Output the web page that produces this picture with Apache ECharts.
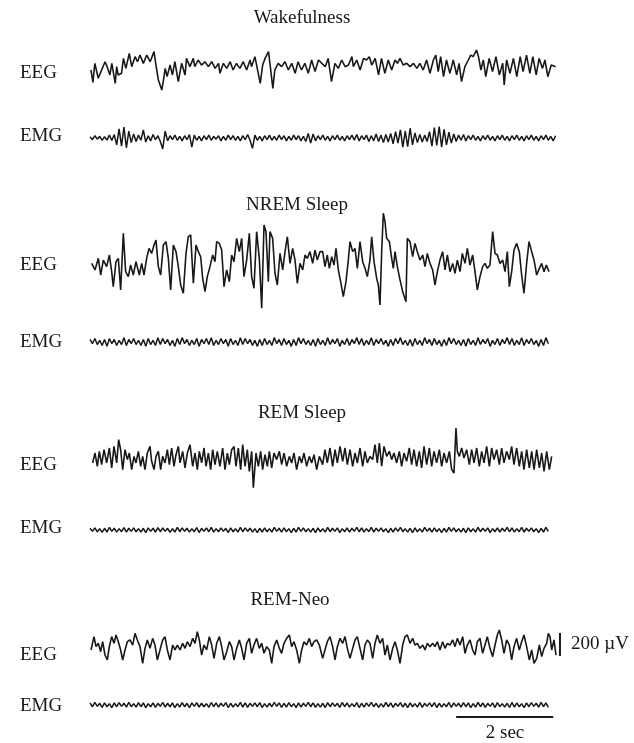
<!DOCTYPE html>
<html>
<head>
<meta charset="utf-8">
<script src="https://cdn.jsdelivr.net/npm/echarts@6/dist/echarts.min.js"></script>
<style>
html,body{margin:0;padding:0;background:#fff;}
#main{width:634px;height:743px;}
</style>
</head>
<body>
<div id="main"></div>
<script>
var wakeEeg = [[0.02,0],[0.06,-107],[0.10,58],[0.17,-72],[0.31,72],[0.34,43],[0.41,-43],[0.45,58],[0.52,-116],[0.55,29],[0.58,-43],[0.65,-29],[0.69,101],[0.74,14],[0.81,145],[0.86,29],[0.93,116],[0.98,72],[1.03,130],[1.10,58],[1.17,130],[1.24,72],[1.32,160],[1.36,43],[1.41,-87],[1.48,-174],[1.51,-101],[1.55,14],[1.59,-58],[1.65,43],[1.70,-43],[1.75,72],[1.82,-101],[1.89,58],[1.96,-43],[1.99,101],[2.06,29],[2.13,101],[2.16,29],[2.23,87],[2.30,43],[2.37,72],[2.44,29],[2.51,72],[2.58,14],[2.65,58],[2.68,-29],[2.75,58],[2.82,14],[2.89,72],[2.95,0],[3.02,58],[3.09,14],[3.16,72],[3.23,0],[3.30,87],[3.33,29],[3.40,116],[3.47,-29],[3.51,-116],[3.56,43],[3.61,101],[3.68,160],[3.71,58],[3.77,-160],[3.81,0],[3.88,58],[3.95,29],[4.02,72],[4.09,0],[4.16,58],[4.23,-29],[4.29,72],[4.36,0],[4.43,58],[4.50,-29],[4.57,87],[4.64,-14],[4.71,87],[4.85,29],[4.91,101],[4.98,-101],[5.05,58],[5.12,14],[5.19,87],[5.26,29],[5.33,43],[5.40,116],[5.43,29],[5.50,87],[5.57,0],[5.64,101],[5.70,87],[5.76,116],[5.81,43],[5.88,101],[5.95,-43],[6.01,101],[6.08,-29],[6.15,87],[6.22,0],[6.29,87],[6.34,58],[6.39,101],[6.46,43],[6.53,58],[6.60,29],[6.67,58],[6.74,14],[6.80,58],[6.87,0],[6.94,87],[7.01,-29],[7.08,87],[7.13,130],[7.18,-14],[7.23,116],[7.29,-58],[7.35,87],[7.42,-29],[7.49,87],[7.56,-43],[7.61,58],[7.66,-101],[7.73,29],[7.80,87],[7.85,130],[7.90,116],[7.97,174],[8.01,116],[8.06,0],[8.11,87],[8.16,-58],[8.23,101],[8.30,-14],[8.37,116],[8.44,-43],[8.51,58],[8.54,-130],[8.59,87],[8.66,-29],[8.73,101],[8.80,-58],[8.87,116],[8.93,-14],[9.00,130],[9.07,-29],[9.13,116],[9.20,-43],[9.26,101],[9.33,14],[9.38,87],[9.44,-58],[9.51,43],[9.60,29]];

var nremEeg = [[0.034,14],[0.103,-43],[0.172,58],[0.22,-87],[0.275,43],[0.344,-14],[0.40,87],[0.447,-58],[0.48,-188],[0.536,29],[0.584,58],[0.632,-217],[0.687,275],[0.735,-58],[0.79,-101],[0.838,0],[0.893,-87],[0.948,29],[1.017,-87],[1.065,14],[1.113,-87],[1.168,58],[1.216,145],[1.271,101],[1.32,174],[1.36,217],[1.409,-14],[1.457,-87],[1.512,174],[1.567,203],[1.615,58],[1.663,-217],[1.718,174],[1.773,116],[1.821,-14],[1.869,-174],[1.924,-246],[1.979,101],[2.027,246],[2.076,261],[2.131,-159],[2.186,174],[2.234,116],[2.282,72],[2.323,-116],[2.371,-232],[2.419,-101],[2.474,-14],[2.529,87],[2.577,29],[2.612,203],[2.667,188],[2.715,130],[2.763,-188],[2.818,-43],[2.873,-145],[2.921,87],[2.969,29],[3.024,232],[3.079,116],[3.127,232],[3.175,-101],[3.23,43],[3.285,275],[3.333,-101],[3.381,-203],[3.436,290],[3.491,58],[3.54,-377],[3.588,348],[3.629,290],[3.677,-145],[3.711,290],[3.766,232],[3.814,-72],[3.862,-174],[3.918,101],[3.973,-43],[4.021,116],[4.069,246],[4.124,14],[4.179,145],[4.227,43],[4.275,-159],[4.33,14],[4.385,-43],[4.433,87],[4.481,58],[4.536,116],[4.591,14],[4.639,130],[4.687,43],[4.742,116],[4.797,116],[4.845,-14],[4.893,87],[4.935,-29],[4.983,72],[5.031,0],[5.072,145],[5.12,-43],[5.168,-145],[5.223,-275],[5.278,-145],[5.326,43],[5.361,203],[5.416,116],[5.464,145],[5.512,-29],[5.567,203],[5.622,29],[5.67,-29],[5.718,-101],[5.773,43],[5.808,246],[5.856,29],[5.911,-116],[5.945,-174],[5.979,-348],[6.014,116],[6.048,450],[6.082,377],[6.117,232],[6.172,203],[6.22,58],[6.254,-29],[6.289,116],[6.337,-14],[6.392,-130],[6.447,-232],[6.515,-319],[6.543,232],[6.598,203],[6.653,72],[6.701,188],[6.749,116],[6.804,43],[6.859,87],[6.907,-14],[6.955,101],[7.01,14],[7.065,-43],[7.113,-174],[7.162,-58],[7.216,43],[7.271,116],[7.32,-43],[7.368,87],[7.423,-58],[7.478,14],[7.526,-72],[7.574,43],[7.629,-58],[7.677,101],[7.732,14],[7.78,145],[7.835,0],[7.89,87],[7.938,-58],[7.986,-217],[8.041,-101],[8.096,-14],[8.144,14],[8.192,-29],[8.247,0],[8.302,290],[8.351,101],[8.399,87],[8.454,14],[8.509,43],[8.557,-58],[8.605,116],[8.646,-188],[8.694,-58],[8.742,130],[8.797,188],[8.852,116],[8.9,-87],[8.948,-246],[9.003,14],[9.052,203],[9.107,116],[9.155,43],[9.21,-87],[9.265,-29],[9.313,14],[9.361,-58],[9.409,0],[9.464,-58]];

var remEeg = [[0.054,-43],[0.103,43],[0.151,-72],[0.192,58],[0.24,-58],[0.289,72],[0.344,-43],[0.399,87],[0.447,-87],[0.495,101],[0.55,-43],[0.591,160],[0.632,72],[0.674,-101],[0.722,72],[0.77,-14],[0.811,43],[0.859,-101],[0.907,14],[0.948,-43],[0.997,58],[1.045,-72],[1.086,14],[1.134,-101],[1.182,43],[1.237,101],[1.271,-29],[1.32,-101],[1.361,14],[1.409,58],[1.457,-101],[1.498,14],[1.546,-43],[1.595,72],[1.636,-58],[1.684,87],[1.732,-72],[1.773,29],[1.821,101],[1.856,-43],[1.911,58],[1.959,-87],[2.007,43],[2.062,116],[2.117,-72],[2.165,43],[2.213,-101],[2.254,58],[2.302,-43],[2.351,87],[2.392,-72],[2.44,43],[2.488,-101],[2.529,72],[2.577,-58],[2.625,58],[2.68,-72],[2.735,87],[2.784,-101],[2.832,43],[2.873,-58],[2.921,72],[2.969,101],[3.01,-72],[3.058,87],[3.107,-101],[3.148,116],[3.196,-72],[3.244,72],[3.285,-116],[3.333,58],[3.368,-258],[3.423,43],[3.471,-72],[3.519,58],[3.56,-101],[3.608,29],[3.656,-72],[3.698,58],[3.746,-87],[3.794,43],[3.849,-14],[3.904,58],[3.952,-58],[4.0,43],[4.055,-72],[4.11,14],[4.158,-43],[4.206,43],[4.261,-101],[4.316,14],[4.364,-43],[4.412,43],[4.467,-72],[4.522,14],[4.57,-43],[4.619,29],[4.674,-101],[4.729,14],[4.797,-58],[4.845,72],[4.893,-43],[4.948,87],[5.003,-72],[5.052,72],[5.1,-43],[5.155,101],[5.21,-29],[5.258,87],[5.306,-58],[5.361,72],[5.416,-72],[5.464,43],[5.512,-43],[5.567,87],[5.622,-72],[5.67,58],[5.718,-43],[5.773,14],[5.828,-14],[5.876,116],[5.924,-43],[5.966,130],[6.014,-72],[6.062,101],[6.117,14],[6.172,58],[6.22,-14],[6.268,43],[6.323,-43],[6.378,58],[6.426,-72],[6.474,43],[6.529,-29],[6.584,87],[6.632,-58],[6.68,72],[6.735,-72],[6.79,58],[6.838,-87],[6.887,101],[6.942,-58],[6.997,87],[7.045,-72],[7.093,58],[7.148,-43],[7.203,72],[7.251,-72],[7.299,43],[7.354,-43],[7.409,58],[7.457,-101],[7.505,-130],[7.546,261],[7.574,58],[7.615,14],[7.663,87],[7.711,0],[7.766,72],[7.821,-58],[7.869,72],[7.918,-43],[7.973,87],[8.027,-72],[8.076,58],[8.124,-43],[8.179,101],[8.234,-72],[8.282,87],[8.33,-14],[8.385,72],[8.44,-58],[8.488,87],[8.536,-43],[8.591,58],[8.646,-14],[8.694,101],[8.742,-58],[8.797,87],[8.852,-72],[8.9,58],[8.948,-101],[9.003,72],[9.058,-87],[9.107,58],[9.155,-101],[9.21,72],[9.265,-87],[9.313,43],[9.361,-116],[9.416,58],[9.471,-101],[9.519,14]];

var neoEeg = [[0.021,9],[0.082,125],[0.124,38],[0.172,67],[0.22,-6],[0.261,81],[0.309,-35],[0.357,-78],[0.399,38],[0.447,125],[0.495,67],[0.536,139],[0.584,81],[0.632,9],[0.674,-78],[0.722,9],[0.77,81],[0.825,96],[0.88,52],[0.928,154],[0.976,96],[1.031,38],[1.086,-107],[1.134,23],[1.182,96],[1.237,23],[1.292,110],[1.34,52],[1.388,-78],[1.443,9],[1.498,96],[1.546,125],[1.595,9],[1.65,-78],[1.704,52],[1.753,9],[1.801,52],[1.856,9],[1.911,67],[1.959,23],[2.007,81],[2.062,38],[2.117,110],[2.165,67],[2.213,168],[2.254,96],[2.302,-35],[2.351,52],[2.405,9],[2.46,125],[2.509,52],[2.557,-64],[2.612,67],[2.667,125],[2.715,38],[2.763,-78],[2.818,-6],[2.873,81],[2.921,38],[2.969,-78],[3.024,23],[3.079,96],[3.127,23],[3.175,-78],[3.23,67],[3.285,110],[3.333,-20],[3.381,52],[3.436,110],[3.491,23],[3.54,67],[3.588,-20],[3.643,38],[3.698,9],[3.746,-107],[3.794,38],[3.849,96],[3.904,23],[3.952,-20],[4.0,67],[4.055,110],[4.11,139],[4.158,38],[4.206,81],[4.261,9],[4.316,-107],[4.364,9],[4.412,81],[4.467,52],[4.522,110],[4.57,38],[4.619,81],[4.674,96],[4.729,52],[4.797,-64],[4.845,9],[4.893,81],[4.948,125],[5.003,38],[5.052,-78],[5.1,38],[5.155,110],[5.21,67],[5.258,125],[5.306,23],[5.361,-64],[5.416,23],[5.464,96],[5.512,125],[5.567,23],[5.622,-78],[5.67,52],[5.718,96],[5.773,67],[5.828,-64],[5.876,67],[5.924,139],[5.979,67],[6.034,110],[6.082,-35],[6.131,52],[6.186,-78],[6.241,23],[6.289,81],[6.337,9],[6.392,-107],[6.447,52],[6.495,125],[6.543,139],[6.598,67],[6.653,110],[6.701,52],[6.749,67],[6.804,23],[6.859,52],[6.907,9],[6.955,67],[7.01,38],[7.065,67],[7.113,38],[7.162,81],[7.216,9],[7.271,81],[7.32,23],[7.368,67],[7.423,52],[7.478,96],[7.526,38],[7.574,110],[7.629,52],[7.684,125],[7.732,-20],[7.78,52],[7.835,96],[7.89,9],[7.938,-35],[7.986,81],[8.041,110],[8.096,-20],[8.144,52],[8.192,125],[8.247,23],[8.302,-49],[8.351,52],[8.399,139],[8.44,183],[8.488,96],[8.536,-20],[8.591,96],[8.646,52],[8.694,-78],[8.742,38],[8.797,110],[8.852,9],[8.9,81],[8.948,139],[9.003,38],[9.058,-78],[9.107,9],[9.155,-107],[9.21,-64],[9.265,52],[9.313,-49],[9.361,23],[9.416,67],[9.45,154],[9.485,125],[9.519,9],[9.567,96],[9.608,-35]];

// EMG traces: one value (uV) every emgStep seconds
var emgStep = 0.05;
var wakeEmg = [10,-15,20,-10,15,-20,12,-18,25,-22,30,-60,80,-70,95,-85,60,-40,35,-30,
  25,-20,70,-35,20,-25,30,-15,20,-30,-95,60,-25,20,-15,25,-20,15,-25,20,
  -15,30,-80,25,-20,15,-25,20,-15,25,-20,15,-10,20,-25,15,-20,25,-15,20,
  -20,15,-25,20,-15,30,-20,-90,25,-20,15,-25,20,-15,25,-20,15,-20,25,-15,
  20,-25,15,-20,25,-15,20,-25,15,-30,40,-45,35,-25,20,-15,25,-20,15,-25,
  20,-15,25,-20,15,-25,20,-15,25,-20,30,-25,20,-15,25,-30,20,-25,35,-30,
  25,-40,30,-35,40,-50,55,-45,70,-80,60,-75,85,-60,45,-40,30,-35,25,-30,
  55,-70,90,-65,100,-80,75,-60,50,-45,35,-30,25,-20,30,-25,20,-15,25,-20,
  15,-25,20,-15,25,-20,15,-25,20,-15,25,-20,15,-25,20,-15,25,-20,15,-25,
  20,-15,25,-20,15,-25,20,-15,25,-20,15,-25,20];
var nremEmg = [22,-15,30,-22,15,-30,22,-38,30,-15,22,-30,15,-22,38,-30,22,-15,30,-22,
  15,-30,22,-38,30,-22,15,-30,38,-22,30,-15,22,-30,15,-38,30,-22,38,-15,
  22,-30,15,-22,30,-38,22,-15,30,-22,38,-30,15,-22,30,-15,22,-38,30,-22,
  15,-30,38,-22,30,-15,22,-30,15,-38,22,-30,30,-22,15,-30,38,-15,22,-30,
  30,-22,15,-38,22,-30,38,-15,30,-22,15,-30,22,-38,30,-22,15,-30,38,-22,
  22,-15,30,-38,15,-22,30,-30,22,-15,38,-22,30,-30,15,-22,38,-30,22,-15,
  30,-22,15,-38,22,-30,30,-15,38,-22,15,-30,22,-38,30,-22,15,-30,38,-15,
  22,-30,30,-22,15,-38,22,-30,38,-15,30,-22,15,-30,22,-38,30,-22,15,-30,
  38,-22,22,-15,30,-38,15,-22,30,-30,22,-15,38,-22,30,-30,15,-22,38,-30,
  22,-15,30,-22,15,-38,22,-30,38,-15];
var remEmg = [15,-12,18,-15,12,-21,15,-18,22,-12,15,-18,12,-15,21,-18,15,-12,18,-15,
  12,-18,15,-22,18,-12,15,-18,21,-15,18,-12,15,-21,12,-18,22,-15,18,-12,
  15,-18,12,-15,21,-22,15,-12,18,-15,22,-18,12,-15,18,-12,15,-22,18,-15,
  12,-18,22,-15,18,-12,15,-18,12,-22,15,-18,18,-15,12,-18,22,-12,15,-18,
  18,-15,12,-22,15,-18,22,-12,18,-15,12,-18,15,-22,18,-15,12,-18,22,-15,
  15,-12,18,-22,12,-15,18,-18,15,-12,22,-15,18,-18,12,-15,22,-18,15,-12,
  18,-15,12,-22,15,-18,18,-12,22,-15,12,-18,15,-22,18,-15,12,-18,22,-12,
  15,-18,18,-15,12,-22,15,-18,22,-12,18,-15,12,-18,15,-22,18,-15,12,-18,
  22,-15,15,-12,18,-22,12,-15,18,-18,15,-12,22,-15,18,-18,12,-15,22,-18,
  15,-12,18,-15,12,-22,15,-18,22,-12];
var neoEmg = [18,-15,22,-12,15,-21,18,-15,12,-22,18,-15,21,-12,15,-18,22,-15,12,-18,
  21,-15,18,-22,12,-15,18,-21,15,-12,22,-18,15,-15,18,-22,12,-18,21,-15,
  15,-22,18,-12,21,-18,15,-15,12,-21,22,-15,18,-18,15,-12,21,-22,15,-18,
  12,-15,22,-18,18,-21,15,-12,18,-15,21,-22,12,-18,15,-15,22,-12,18,-21,
  15,-18,21,-15,12,-22,18,-18,15,-12,22,-15,18,-21,12,-18,15,-22,21,-15,
  18,-12,15,-21,22,-15,18,-18,12,-15,21,-22,15,-18,18,-12,22,-15,15,-21,
  12,-18,22,-15,18,-21,15,-12,21,-18,15,-22,18,-15,12,-18,22,-21,15,-12,
  18,-15,21,-22,15,-18,12,-15,22,-21,18,-12,15,-18,21,-15,18,-22,12,-18,
  22,-15,18,-21,15,-12,18,-22,21,-15,12,-18,15,-21,22,-18,18,-15,12,-22,
  18,-15,21,-12,15,-18,22,-15,18,-21];

// calibration bars
var barUv = [[9.69,-43],[9.69,157]];     // 200 uV
var barSec = [[7.55,-104],[9.55,-104]];  // 2 sec

// trace centres on the page (px): EEG grids are tall, EMG grids short
var traceMid = [70, 138, 265, 342, 458, 530, 651, 705];
var traceHalf = [70, 30, 70, 30, 70, 30, 70, 30];
var pxUv = 8.7; // uV per pixel, same for all channels
var ink = '#1a1718';
var fontFam = '"Liberation Serif", "DejaVu Serif", serif';

function emgPts(arr) {
    return arr.map(function (v, i) { return [+(i * emgStep).toFixed(2), v]; });
}

var grids = [], xAxes = [], yAxes = [];
traceMid.forEach(function (m, i) {
    var h = traceHalf[i];
    grids.push({left: 90, width: 485, top: m - h, height: 2 * h, outerBoundsMode: 'none'});
    xAxes.push({type: 'value', gridIndex: i, min: 0, max: 10, show: false});
    yAxes.push({type: 'value', gridIndex: i, min: -h * pxUv, max: h * pxUv, show: false});
});

function trace(idx, data, w) {
    return {
        type: 'line', xAxisIndex: idx, yAxisIndex: idx, data: data,
        showSymbol: false, clip: false, silent: true,
        lineStyle: {color: ink, width: w || 1.6}
    };
}

function txt(x, y, s, align) {
    return {
        type: 'text', x: x, y: y,
        style: {text: s, fill: ink, font: '19px ' + fontFam, align: align || 'left', verticalAlign: 'middle'}
    };
}

var myChart = echarts.init(document.getElementById('main'));
var option = {
    animation: false,
    backgroundColor: '#fff',
    grid: grids,
    xAxis: xAxes,
    yAxis: yAxes,
    series: [
        trace(0, wakeEeg),
        trace(1, emgPts(wakeEmg), 1.5),
        trace(2, nremEeg),
        trace(3, emgPts(nremEmg), 1.5),
        trace(4, remEeg),
        trace(5, emgPts(remEmg), 1.5),
        trace(6, neoEeg),
        trace(7, emgPts(neoEmg), 1.5),
        trace(6, barUv, 2),
        trace(7, barSec, 2)
    ],
    graphic: [
        txt(302, 18, 'Wakefulness', 'center'),
        txt(20, 73, 'EEG'),
        txt(20, 136, 'EMG'),
        txt(297, 205, 'NREM Sleep', 'center'),
        txt(20, 265, 'EEG'),
        txt(20, 342, 'EMG'),
        txt(302, 413, 'REM Sleep', 'center'),
        txt(20, 465, 'EEG'),
        txt(20, 528, 'EMG'),
        txt(290, 600, 'REM-Neo', 'center'),
        txt(20, 655, 'EEG'),
        txt(20, 706, 'EMG'),
        txt(571, 644, '200 \u00b5V'),
        txt(505, 733, '2 sec', 'center')
    ]
};
myChart.setOption(option);
</script>
</body>
</html>
